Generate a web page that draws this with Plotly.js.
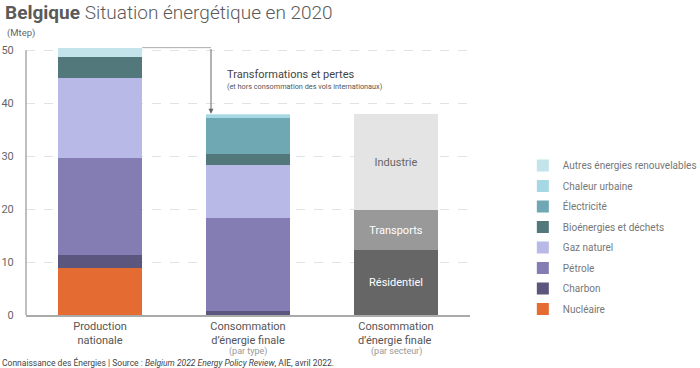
<!DOCTYPE html>
<html>
<head>
<meta charset="utf-8">
<script src="https://cdn.plot.ly/plotly-3.0.1.min.js"></script>
<style>body{margin:0;padding:0;background:#fff;}#chart{width:700px;height:368px;}</style>
</head>
<body>
<div id="chart"></div>
<script>
// Categories (x axis)
const categories = [
  "Production<br>nationale",
  "Consommation<br>d’énergie finale",
  "Consommation<br>d’énergie finale "
];
const categoryNotes = ["", "(par type)", "(par secteur)"];

// Energy types, bottom to top of the stack
const energyNames = ["Nucléaire", "Charbon", "Pétrole", "Gaz naturel", "Bioénergies et déchets", "Électricité", "Chaleur urbaine", "Autres énergies renouvelables"];
const energyColors = ["#e46c32", "#5b567d", "#837db4", "#b9b9e8", "#53787c", "#6fa7b3", "#a6d8e3", "#c2e4ea"];
// Values in Mtep
const productionValues = [8.9, 2.4, 18.4, 15.1, 3.9, 0, 0, 1.8];
const consumptionValues = [0, 0.8, 17.45, 10.15, 2.1, 6.8, 0.4, 0.2];

// Sectors
const sectorNames = ["Résidentiel", "Transports", "Industrie"];
const sectorValues = [12.2, 7.7, 18.0];
const sectorColors = ["#666666", "#999999", "#e4e4e4"];
const sectorTextColors = ["#ffffff", "#ffffff", "#666666"];

const FONT = "Roboto, 'Open Sans', sans-serif";
const BARW = 0.57;

const traces = [];
energyNames.forEach((name, i) => {
  traces.push({
    type: "bar",
    name: name,
    x: [categories[0], categories[1]],
    y: [productionValues[i], consumptionValues[i]],
    width: BARW,
    marker: {color: energyColors[i], line: {width: 0}},
    legendgroup: "g" + i,
    legendrank: energyNames.length - i,
    hoverinfo: "name+y"
  });
});
sectorNames.forEach((name, i) => {
  traces.push({
    type: "bar",
    name: name,
    x: [categories[2]],
    y: [sectorValues[i]],
    width: BARW,
    marker: {color: sectorColors[i], line: {width: 0}},
    text: [name],
    textposition: "inside",
    insidetextanchor: "middle",
    textfont: {color: sectorTextColors[i], size: 11, family: FONT},
    showlegend: false,
    hoverinfo: "name+y"
  });
});

const prodTotal = productionValues.reduce((a, b) => a + b, 0);
const consTotal = consumptionValues.reduce((a, b) => a + b, 0);
const arrowX = 0.75;

const noteAnnotations = categoryNotes.map((t, i) => ({
  x: i, y: (315 - 351) / 270, xref: "x", yref: "paper", xanchor: "center", yanchor: "middle",
  showarrow: false, text: t, font: {size: 9, color: "#999", family: FONT}
})).filter(a => a.text);

const layout = {
  width: 700, height: 368,
  margin: {l: 26, r: 230, t: 45, b: 53, autoexpand: false},
  paper_bgcolor: "#fff", plot_bgcolor: "#fff",
  font: {family: FONT, color: "#666", size: 11},
  barmode: "stack",
  bargap: 0,
  title: {
    text: "<b>Belgique</b> <span style='font-weight:300'>Situation énergétique en 2020</span>",
    font: {family: FONT, size: 19, color: "#5a5a5a"},
    x: 5 / 700, xanchor: "left", xref: "container",
    y: 1 - 12 / 368, yanchor: "middle", yref: "container"
  },
  xaxis: {
    type: "category",
    range: [-0.5, 2.5],
    showline: true, linecolor: "#aaaaaa", linewidth: 1.5,
    showgrid: false, zeroline: false,
    ticks: "", ticklen: 0,
    tickfont: {size: 11, color: "#555", family: FONT},
    automargin: false,
    fixedrange: true
  },
  yaxis: {
    range: [0, 51],
    tickvals: [0, 10, 20, 30, 40, 50],
    showgrid: true, gridcolor: "#e2e2e2", gridwidth: 1, griddash: "dash",
    zeroline: false, showline: false,
    ticks: "outside", ticklen: 9, tickcolor: "rgba(0,0,0,0)",
    tickfont: {size: 11, color: "#666", family: FONT},
    automargin: false,
    fixedrange: true
  },
  legend: {
    x: 1.119, xanchor: "left",
    y: 0.287, yanchor: "middle",
    traceorder: "grouped",
    tracegroupgap: 1.5,
    font: {size: 10, color: "#777", family: FONT},
    bgcolor: "rgba(0,0,0,0)"
  },
  shapes: [
    {type: "line", xref: "paper", yref: "y", x0: 0, x1: 0, y0: 0, y1: 50, line: {color: "#aaaaaa", width: 1.5}},
    {type: "line", xref: "x", yref: "y", x0: BARW / 2, x1: arrowX, y0: prodTotal, y1: prodTotal, line: {color: "#aaaaaa", width: 1}}
  ],
  annotations: [
    {x: arrowX, y: consTotal + 0.1, xref: "x", yref: "y", ax: arrowX, ay: prodTotal, axref: "x", ayref: "y",
     text: "", showarrow: true, arrowhead: 2, arrowsize: 1, arrowwidth: 1, arrowcolor: "#666"},
    {x: 0.845, y: 45.5, xref: "x", yref: "y", xanchor: "left", yanchor: "middle", showarrow: false,
     text: "Transformations et pertes", font: {size: 11, color: "#444", family: FONT}},
    {x: 0.845, y: 43.2, xref: "x", yref: "y", xanchor: "left", yanchor: "middle", showarrow: false,
     text: "(et hors consommation des vols internationaux)", font: {size: 7.3, color: "#555", family: FONT}},
    {x: (5 - 26) / 444, y: (315 - 33) / 270, xref: "paper", yref: "paper", xanchor: "left", yanchor: "middle", showarrow: false,
     text: "(Mtep)", font: {size: 9.5, color: "#666", family: FONT}},
    {x: (0 - 26) / 444, y: (315 - 362) / 270, xref: "paper", yref: "paper", xanchor: "left", yanchor: "middle", showarrow: false,
     text: "Connaissance des Énergies | Source : <i>Belgium 2022 Energy Policy Review</i>, AIE, avril 2022.",
     font: {size: 8.5, color: "#444", family: FONT}}
  ].concat(noteAnnotations)
};

Plotly.newPlot("chart", traces, layout, {displayModeBar: false, staticPlot: true});
</script>
</body>
</html>
